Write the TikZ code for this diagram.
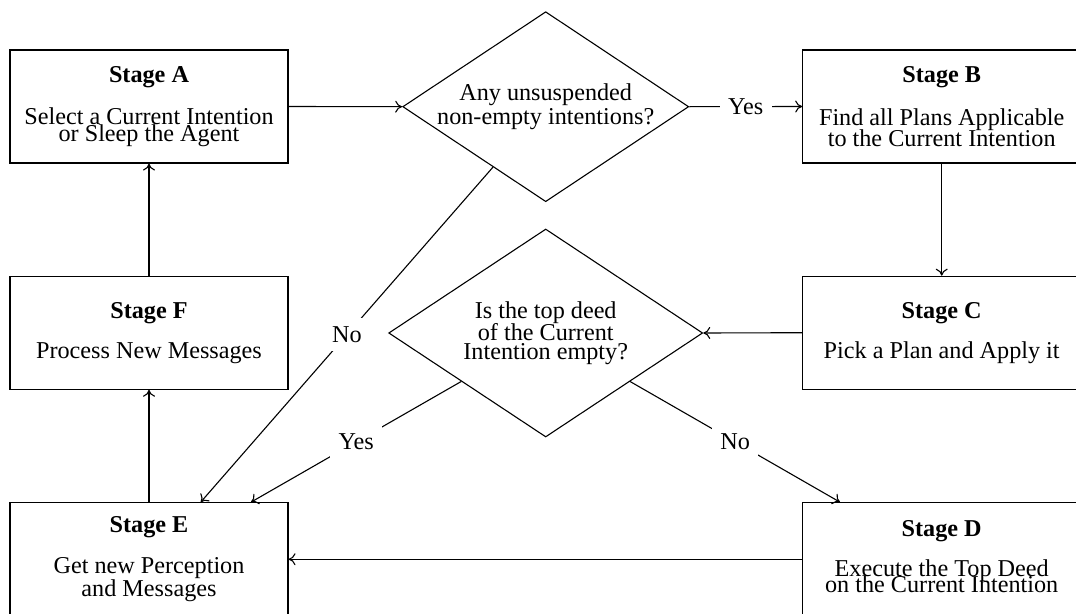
\documentclass[tikz,border=0pt]{standalone}
\usepackage{fontspec}
\setmainfont{Liberation Serif}
\usetikzlibrary{shapes.geometric,arrows.meta,calc}
% lines of a node are spaced only by the explicit \\[...] amounts
\newcommand\tightlines{\lineskiplimit=-1000pt\relax\lineskip=0pt\relax}
\newcommand\stagefont{\fontsize{24.2pt}{0pt}\selectfont\tightlines}
\begin{document}
\begin{tikzpicture}[x=1pt,y=-1pt,
  txt/.style={font=\stagefont},
  stagebox/.style={draw,line width=1.1pt,minimum width=278pt,minimum height=113pt,
    inner sep=0pt,align=center,txt},
  decision/.style={draw,line width=1.1pt,diamond,inner sep=0pt},
  question/.style={align=center,txt},
  arr/.style={line width=1.1pt,-{To[length=7pt,width=12pt]}},
  lbl/.style={fill=white,inner sep=8.5pt,text depth=0pt,txt},
]
\fill[white] (0,0) rectangle (1076,613);
\useasboundingbox (0,0) rectangle (1076,613);

% stage boxes
\node[stagebox] (A) at (149,106.5)
  {\textbf{Stage A}\\[42pt]Select a Current Intention\\[16.7pt]or Sleep the Agent};
\node[stagebox] (B) at (941.7,106.5)
  {\textbf{Stage B}\\[43pt]Find all Plans Applicable\\[20.7pt]to the Current Intention};
\node[stagebox] (C) at (941.7,332.7)
  {\textbf{Stage C}\\[40pt]Pick a Plan and Apply it};
\node[stagebox] (D) at (941.7,559.2)
  {\textbf{Stage D}\\[40pt]Execute the Top Deed\\[16.7pt]on the Current Intention\vphantom{g}};
\node[stagebox] (E) at (149,559.2)
  {\textbf{Stage E}\\[40.7pt]Get new Perception\\[22.7pt]and Messages};
\node[stagebox] (F) at (149,332.7)
  {\textbf{Stage F}\\[40pt]Process New Messages};

% decisions
\node[decision,minimum width=286pt,minimum height=190pt] (d1) at (545.7,106.7) {};
\node[question] (q1) at (d1.center)
  {Any unsuspended\\[23.6pt]non-empty intentions?};
\node[decision,minimum width=314pt,minimum height=208pt] (d2) at (545.7,333) {};
\node[question] (q2) at (d2.center)
  {Is the top deed\\[22.4pt]of the Current\\[18.6pt]Intention empty?};

% arrow end points on the top edges of Stage D and Stage E
\coordinate (eYes) at ($(E.north)+(102,0)$);
\coordinate (eNo)  at ($(E.north)+(51.7,0)$);
\coordinate (dNo)  at ($(D.north)+(-101.7,0)$);

% connectors
\draw[arr] (A.east) -- (d1.west);
\draw[arr] (d1.east) -- node[lbl] {Yes} (B.west);
\draw[arr] (B.south) -- (C.north);
\draw[arr] (C.west) -- (d2.east);
\draw[arr] (d2) -- node[lbl] {No} (dNo);
\draw[arr] (d2) -- node[lbl] {Yes} (eYes);
\draw[arr] (d1) -- node[lbl] {No} (eNo);
\draw[arr] (D.west) -- (E.east);
\draw[arr] (E.north) -- (F.south);
\draw[arr] (F.north) -- (A.south);
\end{tikzpicture}
\end{document}
